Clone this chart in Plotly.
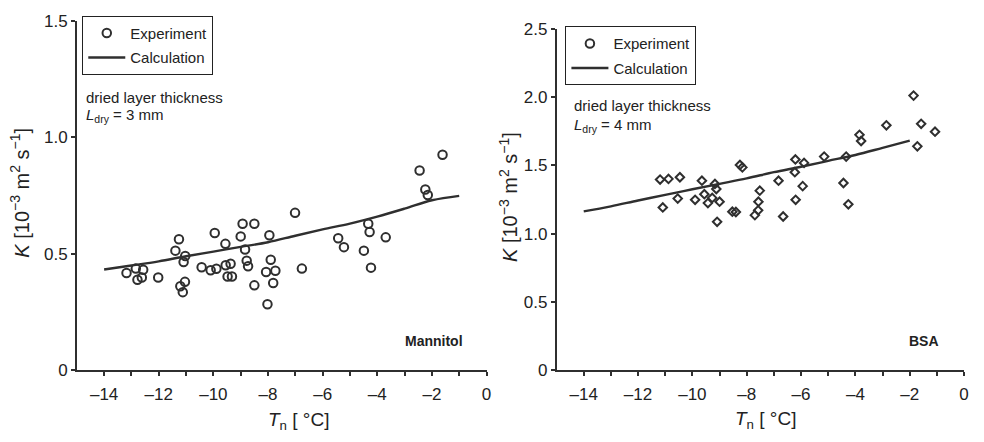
import plotly.graph_objects as go

# Mannitol: measured K versus nucleation temperature
mannitol_T = [-13.18, -12.84, -12.57, -12.78, -12.62, -12.02, -11.26, -11.39, -11.03, -11.09,
              -11.04, -11.21, -11.12, -10.43, -10.10, -9.89, -9.95, -9.56, -9.55, -9.37,
              -9.48, -9.32, -8.93, -8.50, -9.00, -8.84, -8.78, -8.73, -7.95, -7.90,
              -8.07, -7.73, -7.81, -8.50, -8.02, -7.01, -6.76, -5.43, -5.22, -4.49,
              -4.33, -4.28, -3.69, -4.23, -2.45, -2.24, -2.15, -1.61]
mannitol_K = [0.418, 0.437, 0.432, 0.389, 0.399, 0.399, 0.563, 0.514, 0.491, 0.465,
              0.380, 0.361, 0.336, 0.443, 0.430, 0.436, 0.590, 0.543, 0.451, 0.458,
              0.403, 0.403, 0.629, 0.629, 0.575, 0.519, 0.471, 0.447, 0.580, 0.475,
              0.422, 0.428, 0.375, 0.365, 0.284, 0.676, 0.437, 0.567, 0.529, 0.514,
              0.629, 0.594, 0.571, 0.441, 0.858, 0.776, 0.753, 0.925]

# Mannitol: calculated K
calc_T_mannitol = [-14, -13, -12, -11, -10, -9, -8, -7, -6, -5, -4, -3, -2, -1]
calc_K_mannitol = [0.433, 0.450, 0.468, 0.490, 0.510, 0.530, 0.550, 0.578, 0.605,
                   0.630, 0.660, 0.694, 0.730, 0.749]

# BSA: measured K versus nucleation temperature
bsa_T = [-11.19, -10.88, -10.46, -11.09, -10.54, -9.90, -9.65, -9.17, -9.12, -9.56,
         -9.27, -9.43, -9.00, -9.09, -8.25, -8.16, -8.53, -8.40, -7.52, -7.57,
         -7.58, -7.70, -6.83, -6.66, -6.21, -5.89, -6.23, -5.94, -6.20, -5.15,
         -4.34, -4.44, -4.26, -3.85, -3.79, -2.86, -1.58, -1.07, -1.72, -1.86]
bsa_K = [1.396, 1.401, 1.413, 1.192, 1.257, 1.248, 1.388, 1.364, 1.327, 1.289,
         1.262, 1.224, 1.234, 1.087, 1.503, 1.485, 1.161, 1.159, 1.315, 1.234,
         1.171, 1.136, 1.388, 1.126, 1.543, 1.518, 1.450, 1.348, 1.248, 1.564,
         1.564, 1.371, 1.215, 1.723, 1.678, 1.793, 1.804, 1.746, 1.639, 2.01]

# BSA: calculated K
calc_T_bsa = [-14, -13, -12, -11, -10, -9, -8, -7, -6, -5, -4, -3, -2]
calc_K_bsa = [1.163, 1.200, 1.243, 1.284, 1.325, 1.365, 1.405, 1.450, 1.490,
              1.533, 1.576, 1.628, 1.681]

x_tickvals = list(range(-14, 1))
x_ticktext = [("–%d" % -v if v < 0 else "0") if v % 2 == 0 else "" for v in x_tickvals]

left_y_vals = [0, 0.5, 1.0, 1.5]
left_y_text = ["0", "0.5", "1.0", "1.5"]
right_y_vals = [0, 0.5, 1.0, 1.5, 2.0, 2.5]
right_y_text = ["0", "0.5", "1.0", "1.5", "2.0", "2.5"]

INK = "#2f2f2f"
FONT = "Liberation Sans, Arial, Helvetica, sans-serif"
W, H = 984, 442

fig = go.Figure()

# left panel
fig.add_trace(go.Scatter(
    x=mannitol_T, y=mannitol_K, mode="markers", name="Experiment",
    marker=dict(symbol="circle-open", size=8.5, color=INK, line=dict(width=2, color=INK)),
    xaxis="x", yaxis="y", legend="legend", legendgroup="a1"))
fig.add_trace(go.Scatter(
    x=calc_T_mannitol, y=calc_K_mannitol, mode="lines", name="Calculation",
    line=dict(color=INK, width=2.4, shape="spline"),
    xaxis="x", yaxis="y", legend="legend", legendgroup="a2"))

# right panel
fig.add_trace(go.Scatter(
    x=bsa_T, y=bsa_K, mode="markers", name="Experiment", showlegend=False,
    marker=dict(symbol="diamond-open", size=6.5, color=INK, line=dict(width=2, color=INK)),
    xaxis="x2", yaxis="y2"))
fig.add_trace(go.Scatter(
    x=[None], y=[None], mode="markers", name="Experiment",
    marker=dict(symbol="circle-open", size=8.5, color=INK, line=dict(width=2, color=INK)),
    xaxis="x2", yaxis="y2", legend="legend2", legendgroup="b1"))
fig.add_trace(go.Scatter(
    x=calc_T_bsa, y=calc_K_bsa, mode="lines", name="Calculation",
    line=dict(color=INK, width=2.4, shape="spline"),
    xaxis="x2", yaxis="y2", legend="legend2", legendgroup="b2"))

axis_common = dict(
    showline=True, linecolor=INK, linewidth=1.5, ticks="outside", ticklen=4,
    tickwidth=1.5, tickcolor=INK, showgrid=False, zeroline=False,
    tickfont=dict(family=FONT, size=17, color="#222"), fixedrange=True)

legend_common = dict(
    xanchor="left", yanchor="top", bordercolor="#222", borderwidth=1, bgcolor="white",
    font=dict(family=FONT, size=15, color="#222"),
    tracegroupgap=2, itemwidth=37, traceorder="grouped")

fig.update_layout(
    width=W, height=H,
    margin=dict(l=0, r=0, t=0, b=0),
    paper_bgcolor="white", plot_bgcolor="white",
    font=dict(family=FONT, color="#222"),
    xaxis=dict(domain=[77.2 / W, 489 / W], range=[-15, 0], tickvals=x_tickvals,
               ticktext=x_ticktext, anchor="y", ticklabelstandoff=3, **axis_common),
    yaxis=dict(domain=[(H - 377.7) / H, (H - 12.3) / H], range=[0, 1.5],
               tickvals=left_y_vals, ticktext=left_y_text, anchor="x", **axis_common),
    xaxis2=dict(domain=[559.4 / W, 969 / W], range=[-15, 0], tickvals=x_tickvals,
                ticktext=x_ticktext, anchor="y2", ticklabelstandoff=3, **axis_common),
    yaxis2=dict(domain=[(H - 377.7) / H, (H - 20.5) / H], range=[0, 2.5],
                tickvals=right_y_vals, ticktext=right_y_text, anchor="x2", **axis_common),
    legend=dict(x=82.7 / W, y=1 - 7 / H, **legend_common),
    legend2=dict(x=568.3 / W, y=1 - 18 / H, **legend_common),
)

def note(x, y, text, size=15, xanchor="left", bold=False, angle=0):
    if bold:
        text = "<b>%s</b>" % text
    fig.add_annotation(x=x / W, y=1 - y / H, xref="paper", yref="paper", text=text,
                       showarrow=False, xanchor=xanchor, yanchor="middle",
                       textangle=angle, font=dict(family=FONT, size=size, color="#222"))

# text inside the panels
note(84, 92, "dried layer thickness")
note(84, 111, "<i>L</i><sub>dry</sub> = 3 mm")
note(575, 101, "dried layer thickness")
note(575, 122, "<i>L</i><sub>dry</sub> = 4 mm")
note(467, 347, "Mannitol", size=14, xanchor="right", bold=True)
note(946, 347, "BSA", size=14, xanchor="right", bold=True)

# axis titles
note(300, 431, "<i>T</i><sub>n</sub> [ °C]", size=19, xanchor="center")
note(769, 429, "<i>T</i><sub>n</sub> [ °C]", size=19, xanchor="center")
ytitle = "<i>K</i> [10<sup>−3</sup> m<sup>2</sup> s<sup>−1</sup>]"
note(20, 192, ytitle, size=20, xanchor="center", angle=-90)
note(511, 196, ytitle, size=20, xanchor="center", angle=-90)

fig.write_html("out.html")
